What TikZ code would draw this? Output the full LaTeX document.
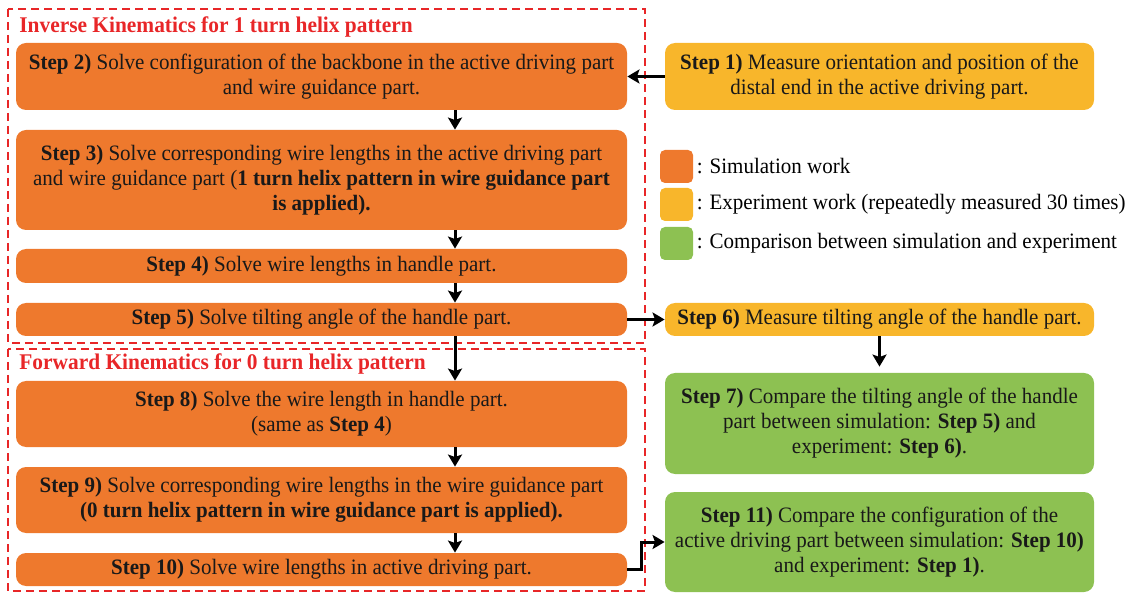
\documentclass[tikz,border=0pt]{standalone}
\usepackage{fontspec}
\setmainfont{Liberation Serif}[FakeStretch=0.955]
\usetikzlibrary{arrows.meta,positioning}
\definecolor{simorange}{RGB}{238,121,45}
\definecolor{expyellow}{RGB}{248,182,43}
\definecolor{cmpgreen}{RGB}{141,193,82}
\definecolor{framered}{RGB}{232,38,40}

\begin{document}
\begin{tikzpicture}[x=0.5pt,y=-0.5pt,
  stepbox/.style={rounded corners=5pt, align=center, inner sep=0pt, text=black!90,
    font=\fontsize{11}{12.5}\selectfont},
  sim/.style={stepbox, fill=simorange, minimum width=305.5pt},
  expt/.style={stepbox, fill=expyellow, minimum width=214.5pt},
  cmp/.style={stepbox, fill=cmpgreen, minimum width=214.5pt},
  frame/.style={draw=framered, line width=1pt, dash pattern=on 4pt off 2.5pt},
  frametitle/.style={anchor=base west, inner sep=0pt, text=framered,
    font=\fontsize{11.2}{12.5}\selectfont\bfseries},
  flow/.style={line width=1.5pt, -{Stealth[length=6pt,width=7pt,inset=1.2pt]}},
  key/.style={rounded corners=2.5pt, minimum width=16.5pt, minimum height=16.5pt, inner sep=0pt},
  keytext/.style={inner sep=0pt, font=\fontsize{11}{12.5}\selectfont}]

\useasboundingbox (0,0) rectangle (1136,593);

\draw[frame] (8,9) rectangle (645,343);
\draw[frame] (8,349) rectangle (645,591);
\node[frametitle] (ik) at (19,33) {Inverse Kinematics for 1 turn helix pattern};
\node[frametitle] (fk) at (19,370) {Forward Kinematics for 0 turn helix pattern};

\node[sim, minimum height=33.5pt] (s2) at (321.5,76.5)
  {\textbf{Step 2)} Solve configuration of the backbone in the active driving part\\
   and wire guidance part.};
\node[sim, minimum height=50pt] (s3) at (321.5,180)
  {\textbf{Step 3)} Solve corresponding wire lengths in the active driving part\\
   and wire guidance part (\textbf{1 turn helix pattern in wire guidance part}\\
   \textbf{is applied).}};
\node[sim, minimum height=17pt] (s4) at (321.5,266)
  {\textbf{Step 4)} Solve wire lengths in handle part.};
\node[sim, minimum height=16.5pt] (s5) at (321.5,319.5)
  {\textbf{Step 5)} Solve tilting angle of the handle part.};
\node[sim, minimum height=33pt] (s8) at (321.5,414)
  {\textbf{Step 8)} Solve the wire length in handle part.\\
   (same as \textbf{Step 4})};
\node[sim, minimum height=33pt] (s9) at (321.5,500)
  {\textbf{Step 9)} Solve corresponding wire lengths in the wire guidance part\\
   \textbf{(0 turn helix pattern in wire guidance part is applied).}};
\node[sim, minimum height=16.5pt] (s10) at (321.5,569.5)
  {\textbf{Step 10)} Solve wire lengths in active driving part.};

\node[expt, minimum height=33.5pt] (s1) at (879.5,76.5)
  {\textbf{Step 1)} Measure orientation and position of the\\
   distal end in the active driving part.};
\node[expt, minimum height=16.5pt] (s6) at (879.5,319.5)
  {\textbf{Step 6)} Measure tilting angle of the handle part.};
\node[cmp, minimum height=50.5pt] (s7) at (879.5,423.5)
  {\textbf{Step 7)} Compare the tilting angle of the handle\\
   part between simulation: \textbf{Step 5)} and\\
   experiment: \textbf{Step 6)}.};
\node[cmp, minimum height=50pt] (s11) at (879.5,542)
  {\textbf{Step 11)} Compare the configuration of the\\
   active driving part between simulation: \textbf{Step 10)}\\
   and experiment: \textbf{Step 1)}.};

\node[key, fill=simorange] (ksim) at (676.5,166.5) {};
\node[key, fill=expyellow] (kexp) at (676.5,204.5) {};
\node[key, fill=cmpgreen] (kcmp) at (676.5,243.5) {};
\node[keytext, right=1.5pt of ksim] (tsim) {: Simulation work};
\node[keytext, right=1.5pt of kexp] (texp) {: Experiment work (repeatedly measured 30 times)};
\node[keytext, right=1.5pt of kcmp] (tcmp) {: Comparison between simulation and experiment};

\coordinate (col) at (455,0);
\draw[flow] (s1.west) -- (s2.east);
\draw[flow] (s2.south -| col) -- (s3.north -| col);
\draw[flow] (s3.south -| col) -- (s4.north -| col);
\draw[flow] (s4.south -| col) -- (s5.north -| col);
\draw[flow] (s5.south -| col) -- (s8.north -| col);
\draw[flow] (s8.south -| col) -- (s9.north -| col);
\draw[flow] (s9.south -| col) -- (s10.north -| col);
\draw[flow] (s5.east) -- (s6.west);
\draw[flow, shorten >=3pt] (s6.south) -- (s7.north);
\draw[flow] (s10.east) -- ++(7pt,0) |- (s11.west);
\end{tikzpicture}
\end{document}
